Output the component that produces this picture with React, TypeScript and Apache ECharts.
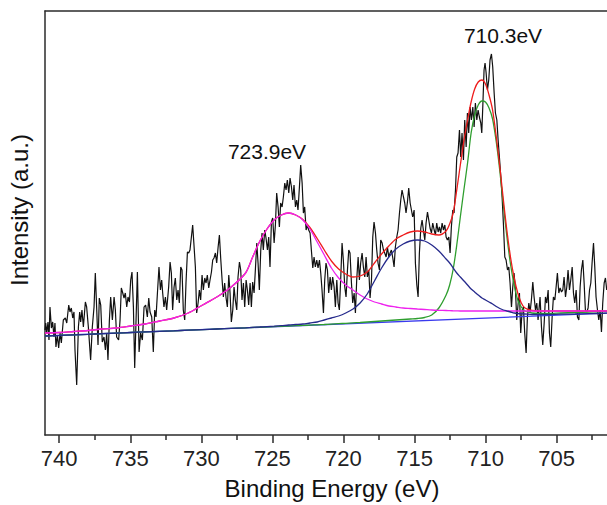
import React, { useEffect, useRef } from 'react';
import * as echarts from 'echarts';

// X axis ticks (binding energy, eV)
const MAJOR_TICKS = [740, 735, 730, 725, 720, 715, 710, 705];
const MINOR_TICKS = [737.5, 732.5, 727.5, 722.5, 717.5, 712.5, 707.5, 702.5];
const X_MIN = 701.46;
const X_MAX = 741.0;
const Y_MIN = 0;
const Y_MAX = 424;

// Measured spectrum [binding energy (eV), intensity (a.u.)]
const SPECTRUM: [number, number][] = [
  [741.0, 105], [740.95, 112], [740.88, 102], [740.79, 113], [740.72, 95], [740.65, 128], [740.55, 107], [740.46, 113],
  [740.37, 98], [740.3, 112], [740.23, 88], [740.13, 100], [740.04, 87], [739.94, 102], [739.85, 92], [739.71, 115],
  [739.57, 117], [739.47, 112], [739.33, 130], [739.24, 123], [739.15, 127], [739.05, 117], [738.96, 123], [738.89, 85],
  [738.77, 50], [738.65, 108], [738.56, 123], [738.49, 113], [738.4, 125], [738.3, 108], [738.16, 133], [738.07, 128],
  [737.95, 108], [737.79, 75], [737.67, 108], [737.55, 128], [737.46, 162], [737.36, 125], [737.27, 90], [737.18, 137],
  [737.08, 130], [736.97, 93], [736.85, 98], [736.75, 85], [736.66, 102], [736.57, 75], [736.47, 115], [736.38, 138],
  [736.26, 115], [736.14, 138], [736.05, 125], [735.96, 98], [735.82, 95], [735.72, 115], [735.63, 147], [735.53, 142],
  [735.44, 137], [735.35, 142], [735.25, 128], [735.16, 138], [735.06, 133], [734.97, 155], [734.88, 163], [734.78, 128],
  [734.69, 67], [734.6, 112], [734.5, 163], [734.38, 83], [734.27, 102], [734.15, 95], [734.03, 128], [733.92, 130],
  [733.8, 118], [733.7, 137], [733.61, 123],
  [733.49, 118], [733.38, 83], [733.28, 125], [733.19, 118], [733.09, 142], [732.98, 168], [732.88, 145], [732.79, 155],
  [732.72, 142], [732.63, 128], [732.53, 138], [732.44, 125], [732.3, 148], [732.2, 173], [732.11, 162], [732.02, 125],
  [731.92, 148], [731.83, 157], [731.73, 135], [731.64, 145], [731.55, 132], [731.45, 168], [731.36, 165], [731.27, 125],
  [731.17, 115], [731.08, 152], [730.98, 183], [730.89, 182], [730.8, 185], [730.7, 198], [730.61, 210], [730.51, 188],
  [730.42, 168], [730.33, 122], [730.23, 132], [730.14, 145], [730.05, 135], [729.95, 160], [729.86, 145], [729.76, 157],
  [729.67, 152], [729.58, 160], [729.48, 147], [729.39, 155], [729.29, 163], [729.2, 175], [729.11, 177], [729.01, 182],
  [728.92, 172], [728.82, 188], [728.73, 200], [728.64, 177], [728.54, 155], [728.45, 138], [728.36, 152], [728.26, 137],
  [728.17, 128], [728.07, 160], [727.98, 142], [727.89, 113], [727.79, 125], [727.7, 148], [727.61, 135], [727.51, 125],
  [727.42, 158], [727.32, 173], [727.23, 165], [727.14, 135], [727.04, 152], [726.95, 128], [726.85, 155], [726.76, 145],
  [726.67, 130],
  [726.57, 152], [726.48, 128], [726.39, 153], [726.29, 142], [726.2, 165], [726.1, 192], [726.01, 172], [725.92, 145],
  [725.82, 185], [725.73, 202], [725.64, 185], [725.54, 205], [725.45, 197], [725.35, 185], [725.26, 198], [725.17, 168],
  [725.07, 213], [724.98, 217], [724.88, 192], [724.79, 210], [724.7, 242], [724.6, 228], [724.51, 208], [724.42, 232],
  [724.32, 228], [724.23, 238], [724.13, 252], [724.04, 245], [723.95, 255], [723.85, 242], [723.76, 257], [723.66, 248],
  [723.57, 235], [723.48, 250], [723.38, 228], [723.29, 235], [723.2, 225], [723.1, 248], [723.01, 270], [722.91, 252],
  [722.82, 222], [722.73, 228], [722.63, 205], [722.54, 210], [722.45, 205], [722.35, 202], [722.26, 185], [722.16, 167],
  [722.07, 178], [721.98, 168], [721.88, 175], [721.79, 167], [721.69, 175], [721.6, 162], [721.51, 145], [721.41, 122],
  [721.32, 155], [721.23, 172], [721.13, 165], [721.04, 142], [720.94, 158], [720.85, 145], [720.76, 158], [720.66, 148],
  [720.57, 128], [720.47, 155], [720.38, 132], [720.29, 125], [720.19, 158], [720.1, 192], [720.01, 175], [719.91, 148],
  [719.82, 138], [719.72, 165], [719.63, 185],
  [719.54, 182], [719.44, 152], [719.35, 132], [719.25, 142], [719.16, 122], [719.07, 155], [718.97, 178], [718.88, 155],
  [718.79, 172], [718.69, 182], [718.6, 168], [718.5, 158], [718.41, 178], [718.32, 158], [718.22, 165], [718.13, 137],
  [718.03, 155], [717.94, 198], [717.85, 213], [717.75, 202], [717.66, 185], [717.57, 172], [717.47, 165], [717.38, 195],
  [717.28, 192], [717.19, 185], [717.1, 182], [717.0, 178], [716.91, 188], [716.81, 178], [716.72, 182], [716.63, 185],
  [716.53, 177], [716.44, 168], [716.35, 188], [716.25, 198], [716.16, 205], [716.06, 222], [715.97, 235], [715.88, 245],
  [715.78, 238], [715.69, 232], [715.6, 222], [715.5, 233], [715.41, 247], [715.31, 232], [715.22, 225], [715.13, 218],
  [715.03, 225], [714.94, 172], [714.84, 150], [714.75, 138], [714.66, 182], [714.56, 207], [714.47, 215], [714.38, 205],
  [714.28, 195], [714.19, 212], [714.09, 223], [714.0, 215], [713.91, 207], [713.81, 202], [713.72, 212], [713.62, 205],
  [713.53, 200], [713.44, 212], [713.34, 203], [713.25, 208], [713.16, 202], [713.06, 212], [712.97, 205], [712.87, 210],
  [712.78, 198], [712.69, 195], [712.59, 198],
  [712.5, 182], [712.41, 208], [712.31, 225], [712.22, 222], [712.12, 245], [712.03, 278], [711.94, 282], [711.84, 305],
  [711.75, 278], [711.66, 302], [711.56, 275], [711.47, 315], [711.37, 288], [711.28, 322], [711.19, 302], [711.09, 328],
  [711.0, 315], [710.9, 328], [710.81, 308], [710.72, 332], [710.62, 315], [710.53, 325], [710.44, 318], [710.34, 312],
  [710.27, 302], [710.2, 328], [710.11, 365], [710.04, 372], [709.97, 363], [709.87, 345], [709.78, 355], [709.69, 375],
  [709.59, 381], [709.5, 368], [709.4, 342], [709.31, 322], [709.21, 315], [709.12, 295], [709.03, 278], [708.93, 258],
  [708.84, 238], [708.75, 212], [708.65, 178], [708.56, 175], [708.46, 165], [708.37, 168], [708.28, 152], [708.18, 128],
  [708.09, 148], [708.0, 162], [707.9, 145], [707.81, 115], [707.71, 132], [707.62, 142], [707.53, 102], [707.43, 125],
  [707.34, 128], [707.25, 102], [707.15, 82], [707.06, 118], [706.96, 132], [706.87, 123], [706.78, 135], [706.68, 153],
  [706.59, 138], [706.49, 125], [706.4, 132], [706.31, 115],
  [706.17, 138], [706.07, 108], [705.98, 90], [705.88, 112], [705.79, 138], [705.7, 132], [705.6, 145], [705.51, 102],
  [705.42, 88], [705.32, 118], [705.23, 138], [705.13, 135], [705.04, 148], [704.95, 162], [704.85, 142], [704.76, 147],
  [704.66, 143], [704.57, 145], [704.48, 158], [704.38, 138], [704.29, 148], [704.2, 165], [704.1, 145], [704.01, 155],
  [703.91, 168], [703.82, 142], [703.73, 132], [703.63, 145], [703.54, 118], [703.44, 115], [703.35, 148], [703.26, 165],
  [703.16, 175], [703.07, 152], [702.98, 125], [702.88, 123], [702.79, 127], [702.69, 145], [702.6, 152], [702.51, 172],
  [702.41, 192], [702.32, 168], [702.23, 138], [702.13, 125], [702.04, 115], [701.94, 125], [701.85, 103], [701.76, 132],
  [701.66, 152], [701.57, 157], [701.48, 145],
];

// Energy grid of the fitted curves
const FIT_E = [
  741.0, 739.99, 738.98, 737.98, 736.97, 735.96, 734.95, 733.95, 732.94, 731.93,
  730.92, 729.91, 728.91, 727.9, 726.89, 726.39, 725.88, 725.38, 724.88, 724.37,
  723.87, 723.36, 722.86, 722.36, 721.85, 721.35, 720.85, 720.34, 719.84, 719.33,
  718.83, 718.33, 717.82, 717.32, 716.81, 716.31, 715.8, 715.3, 714.8, 714.29,
  713.79, 713.29, 712.78, 712.53, 712.28, 712.03, 711.78, 711.52, 711.27, 711.02,
  710.77, 710.52, 710.26, 710.01, 709.76, 709.51, 709.25, 709.0, 708.75, 708.5,
  708.24, 707.99, 707.74, 707.49, 707.23, 706.73, 706.22, 705.71, 704.72, 703.71,
  702.71, 701.7, 701.19,
];

// Fe 2p1/2 component (723.9 eV), magenta
const FIT_723 = [
  102, 102.5, 103.5, 104.5, 106, 107, 109, 111, 114, 117,
  122, 130, 138, 148, 162, 178, 194, 206, 215, 220,
  222, 220, 215, 206, 193, 180, 167, 157, 150, 145,
  140, 136, 133, 131, 129, 128, 127, 126.5, 126, 125.5,
  125, 124.7, 124.5, 124.3, 124.2, 124.1, 124, 124, 124, 124,
  124, 124, 124, 124, 124, 124, 124, 124, 124, 124,
  124, 124, 124, 124, 124, 124, 124, 124, 124, 124,
  124, 124, 124,
];

// Satellite component (~715 eV), navy
const FIT_715 = [
  99, 99.6, 100.2, 100.7, 101.3, 101.9, 102.5, 103.1, 103.7, 104.2,
  104.8, 105.4, 106, 106.6, 107.2, 107.6, 108, 108.4, 108.8, 109.3,
  110, 110.5, 111, 112, 113, 115, 117, 119, 122, 126,
  132, 141, 154, 167, 178, 186, 191, 194, 195, 194,
  190, 184, 176, 172, 167, 162, 158, 154, 150, 146,
  143, 140, 137, 135, 133, 131, 128.5, 126.5, 125, 124,
  123, 122, 121.5, 121.2, 121, 120.5, 120.5, 120.5, 120.8, 121,
  121.3, 121.7, 122,
];

// Fe 2p3/2 component (710.3 eV), green
const FIT_710 = [
  99, 99.6, 100.2, 100.7, 101.3, 101.9, 102.5, 103.1, 103.7, 104.2,
  104.8, 105.4, 106, 106.6, 107.2, 107.5, 107.8, 108.1, 108.4, 108.7,
  109, 109.3, 109.6, 109.9, 110.2, 110.5, 110.9, 111.3, 111.7, 112.1,
  112.5, 113, 113.5, 114, 114.5, 115, 115.5, 116, 116.5, 117.5,
  120, 127, 140, 150, 166, 190, 218, 246, 272, 302,
  320, 330, 334, 333, 327, 316, 293, 264, 230, 198,
  170, 150, 135, 128, 124, 122, 121.5, 121.5, 122, 122.5,
  123, 123.5, 124,
];

// Envelope (sum of fit), red
const FIT_SUM = [
  102, 102.5, 103.5, 104.5, 106, 107, 109, 111, 114, 117,
  122, 130, 138, 148, 162, 178, 194, 206, 215, 220,
  222, 220, 215.5, 207.5, 196.5, 185, 174, 166, 161, 158,
  159, 163, 172, 181, 189, 196, 200, 203, 204, 203,
  201, 200, 204, 211, 222, 245, 270, 295, 315, 333,
  346, 353, 355, 351, 340, 325, 298, 268, 235, 204,
  177, 157, 142, 132, 127, 124.5, 124, 124, 124, 124,
  124, 124, 124,
];

// Linear background
const BACKGROUND: [number, number][] = [[741.0, 99], [701.19, 122]];

const PEAK_LABELS = [
  { text: '723.9eV', x: 267, y: 151 },
  { text: '710.3eV', x: 503, y: 35 },
];

const FONT = '"Liberation Sans", Arial, Helvetica, sans-serif';

const zip = (xs: number[], ys: number[]) => xs.map((x, i) => [x, ys[i]]);

export default function App() {
  const ref = useRef<HTMLDivElement>(null);

  useEffect(() => {
    if (!ref.current) return;
    const chart = echarts.init(ref.current, null, { renderer: 'svg' });
    const axisColor = '#2b2b2b';
    const fitLine = (name: string, data: number[][], color: string, width = 1.3) => ({
      name,
      type: 'line',
      data,
      showSymbol: false,
      symbol: 'none',
      smooth: 0.3,
      lineStyle: { color, width },
      silent: true,
    });

    chart.setOption({
      animation: false,
      backgroundColor: '#ffffff',
      textStyle: { fontFamily: FONT },
      grid: { left: 45, right: 0, top: 11, bottom: 70, outerBoundsMode: 'none', containLabel: false },
      xAxis: [
        {
          type: 'value',
          inverse: true,
          min: X_MIN,
          max: X_MAX,
          position: 'bottom',
          axisLine: { show: true, lineStyle: { color: axisColor, width: 1.5 } },
          axisTick: { show: true, inside: false, length: 8, customValues: MAJOR_TICKS, lineStyle: { color: axisColor, width: 1.5 } },
          axisLabel: { show: true, customValues: MAJOR_TICKS, fontSize: 22, color: '#222', margin: 12, fontFamily: FONT },
          splitLine: { show: false },
        },
        {
          type: 'value',
          inverse: true,
          min: X_MIN,
          max: X_MAX,
          position: 'bottom',
          axisLine: { show: false },
          axisTick: { show: true, inside: false, length: 5, customValues: MINOR_TICKS, lineStyle: { color: axisColor, width: 1.5 } },
          axisLabel: { show: false, customValues: MINOR_TICKS },
          splitLine: { show: false },
        },
        {
          type: 'value',
          inverse: true,
          min: X_MIN,
          max: X_MAX,
          position: 'top',
          axisLine: { show: true, lineStyle: { color: axisColor, width: 1.5 } },
          axisTick: { show: false },
          axisLabel: { show: false },
          splitLine: { show: false },
        },
      ],
      yAxis: {
        type: 'value',
        min: Y_MIN,
        max: Y_MAX,
        axisLine: { show: true, lineStyle: { color: axisColor, width: 1.5 } },
        axisTick: { show: false },
        axisLabel: { show: false },
        splitLine: { show: false },
      },
      series: [
        {
          name: 'Spectrum',
          type: 'line',
          data: SPECTRUM,
          showSymbol: false,
          symbol: 'none',
          lineStyle: { color: '#111', width: 1.2 },
          silent: true,
        },
        fitLine('Background', BACKGROUND, '#3a3aee', 1.3),
        fitLine('710.3 eV', zip(FIT_E, FIT_710), '#2e9e2e'),
        fitLine('Envelope', zip(FIT_E, FIT_SUM), '#ee1c1c'),
        fitLine('723.9 eV', zip(FIT_E, FIT_723), '#ee22ee'),
        fitLine('Satellite', zip(FIT_E, FIT_715), '#262a8c'),
      ],
      graphic: [
        ...PEAK_LABELS.map((l) => ({
          type: 'text',
          x: l.x,
          y: l.y,
          style: { text: l.text, fontSize: 21, fill: '#111', fontFamily: FONT, textAlign: 'center', textVerticalAlign: 'middle' },
        })),
        {
          type: 'text',
          x: 332,
          y: 488,
          style: { text: 'Binding Energy (eV)', fontSize: 24, fill: '#111', fontFamily: FONT, textAlign: 'center', textVerticalAlign: 'middle' },
        },
        {
          type: 'text',
          x: 19,
          y: 210,
          rotation: Math.PI / 2,
          style: { text: 'Intensity (a.u.)', fontSize: 24, fill: '#111', fontFamily: FONT, textAlign: 'center', textVerticalAlign: 'middle' },
        },
      ],
    });

    return () => chart.dispose();
  }, []);

  return (
    <div
      ref={ref}
      style={{ position: 'fixed', left: 0, top: 0, width: 607, height: 505, background: '#fff' }}
    />
  );
}
